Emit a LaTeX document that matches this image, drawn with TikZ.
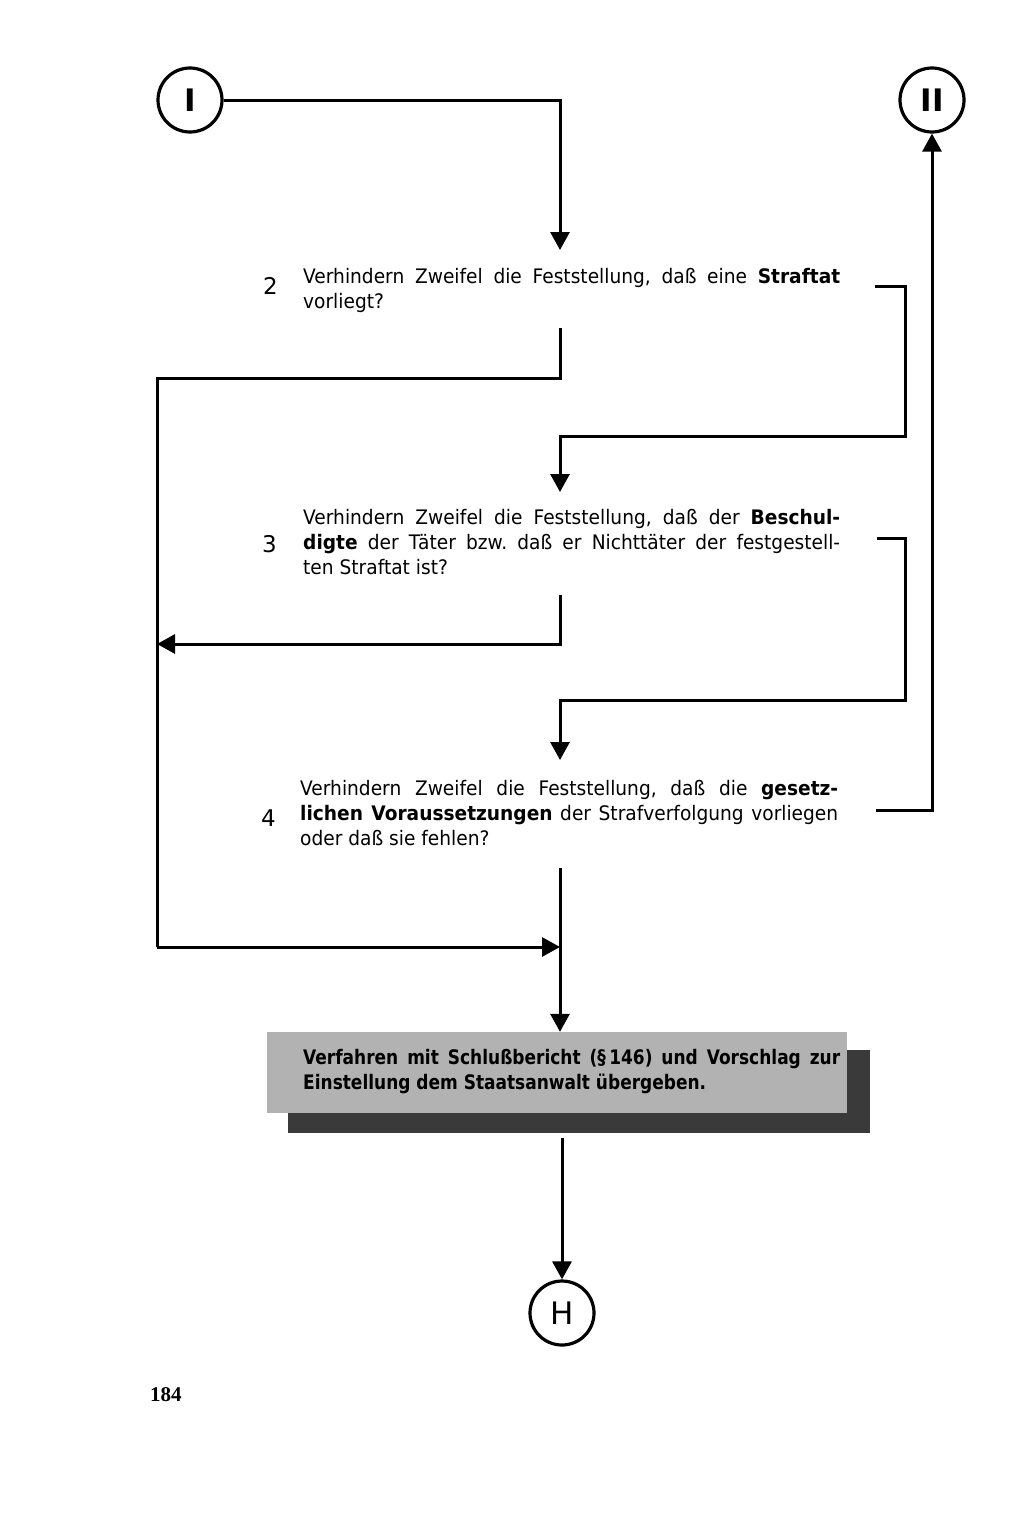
\documentclass[tikz,border=0pt]{standalone}
\usepackage{fontspec}
\setmainfont{DejaVu Sans}[FakeStretch=0.93]
\newfontfamily\markfont{DejaVu Sans}
\newfontfamily\boxfont{DejaVu Sans}[FakeStretch=0.85]
\newfontfamily\pagefont{Liberation Serif}
\usetikzlibrary{arrows.meta,positioning}

\definecolor{boxgray}{RGB}{178,178,178}
\definecolor{shadowgray}{RGB}{58,58,58}

\newcommand{\fullline}[1]{\makebox[\linewidth][s]{#1}}

\tikzset{
  conn/.style={line width=3pt},
  flow/.style={conn, -{Triangle[length=18pt,width=19pt]}},
  marker/.style={circle, draw, line width=3.2pt, minimum size=64pt, inner sep=0pt,
    font=\markfont\fontsize{31}{31}\selectfont},
  question/.style={anchor=base west, inner sep=0pt, font=\frenchspacing\fontsize{20}{25}\selectfont},
  qnum/.style={anchor=base west, inner sep=0pt, font=\markfont\fontsize{23}{23}\selectfont},
}

\begin{document}
\begin{tikzpicture}[x=1pt, y=-1pt]
    \useasboundingbox[fill=white] (0,0) rectangle (1024,1515);

    % connector markers
    \node[marker] (I) at (190,100) {\textbf{I}};
    \node[marker] (II) at (932,100) {\textbf{II}};
    \node[marker] (H) at (562,1313) {H};

    % questions
    \node[qnum] (n2) at (263,294) {2};
    \node[question] (q2) at (303,283) {\parbox[t]{537pt}{%
      \fullline{Verhindern Zweifel die Feststellung, daß eine \textbf{Straftat}}\\
      vorliegt?}};

    \node[qnum] (n3) at (262,552) {3};
    \node[question] (q3) at (303,524) {\parbox[t]{537pt}{%
      \fullline{Verhindern Zweifel die Feststellung, daß der \textbf{Beschul-}}\\
      \fullline{\textbf{digte} der Täter bzw. daß er Nichttäter der festgestell-}\\
      ten Straftat ist?}};

    \node[qnum] (n4) at (261,826) {4};
    \node[question] (q4) at (300,795) {\parbox[t]{538pt}{%
      \fullline{Verhindern Zweifel die Feststellung, daß die \textbf{gesetz-}}\\
      \fullline{\textbf{lichen Voraussetzungen} der Strafverfolgung vorliegen}\\
      oder daß sie fehlen?}};

    % result box with shadow
    \fill[shadowgray] (288,1050) rectangle (870,1133);
    \node[fill=boxgray, minimum width=580pt, minimum height=81pt, inner sep=0pt]
      (report) at (557,1072.5) {};
    \node[question, font=\frenchspacing\boxfont\bfseries\fontsize{20}{25}\selectfont] (reporttext) at (303,1064)
      {\parbox[t]{537pt}{%
      \fullline{Verfahren mit Schlußbericht (§\,146) und Vorschlag zur}\\
      Einstellung dem Staatsanwalt übergeben.}};

    \node[anchor=base west, inner sep=0pt, font=\pagefont\bfseries\fontsize{21}{21}\selectfont]
      (page) at (150,1401) {184};

    % end points and bends
    \coordinate (q2-in) at (560,250);
    \coordinate (q2-no) at (560,328);
    \coordinate (q2-yes) at (875,286);
    \coordinate (r2) at (905,436);
    \coordinate (q3-in) at (560,492);
    \coordinate (q3-no) at (560,595);
    \coordinate (q3-yes) at (877,538);
    \coordinate (r3) at (905,700);
    \coordinate (q4-in) at (560,760);
    \coordinate (q4-no) at (560,868);
    \coordinate (q4-yes) at (876,810);
    \coordinate (left-top) at (157,378);
    \coordinate (left-mid) at (157,644);
    \coordinate (left-bot) at (157,947);
    \coordinate (join) at (560,947);
    \coordinate (report-out) at (562,1138);

    \draw[flow] (I.east) -| (q2-in);
    \draw[conn] (q2-no) |- (left-top) -- (left-bot);
    \draw[flow] (left-bot) -- (join);
    \draw[flow] (q2-yes) -| (r2) -| (q3-in);
    \draw[flow] (q3-no) |- (left-mid);
    \draw[flow] (q3-yes) -| (r3) -| (q4-in);
    \draw[flow] (q4-yes) -| (II.south);
    \draw[flow] (q4-no) -- (q4-no |- report.north);
    \draw[flow] (report-out) -- (H.north);
\end{tikzpicture}
\end{document}
